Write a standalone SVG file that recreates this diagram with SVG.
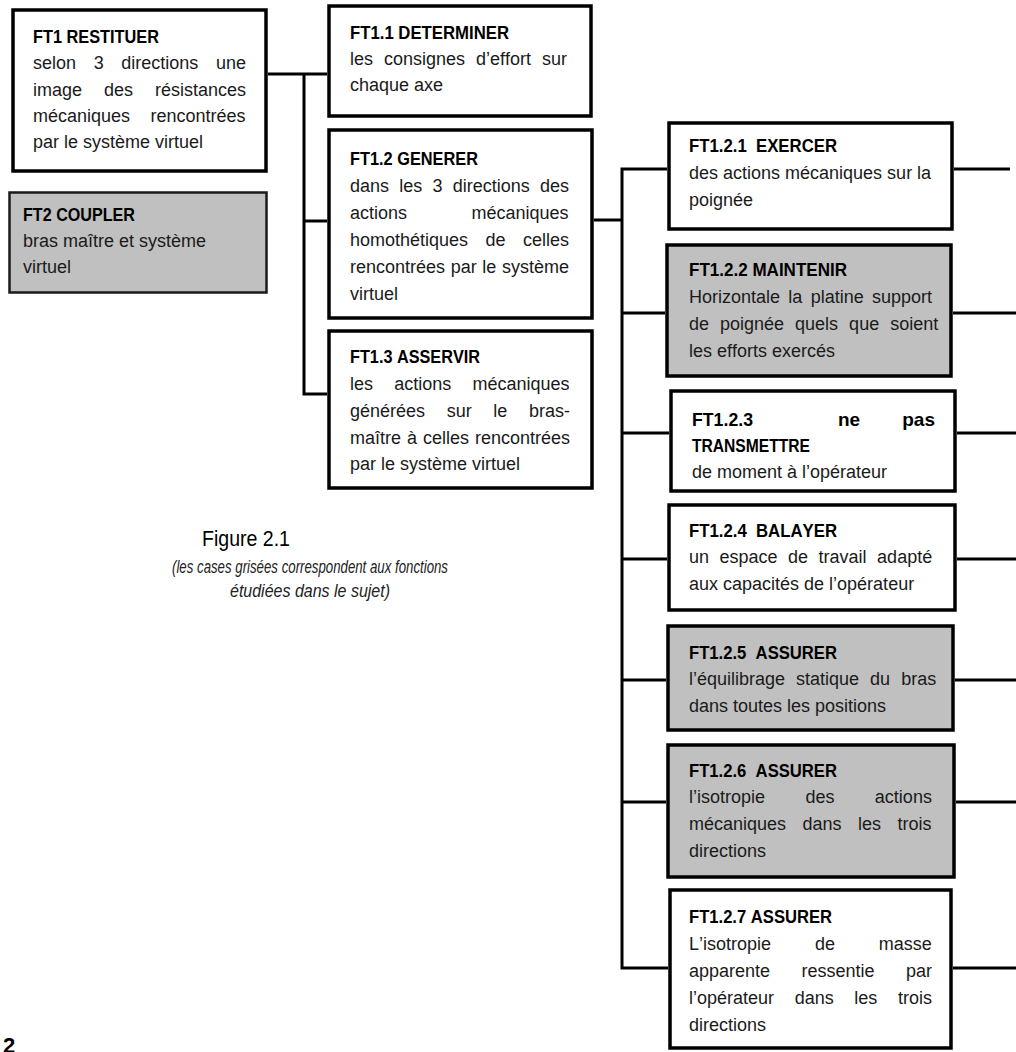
<svg xmlns="http://www.w3.org/2000/svg" width="1016" height="1052" viewBox="0 0 1016 1052">
  <style>
    .box { fill: #ffffff; stroke: #000000; stroke-width: 3.5; }
    .grey { fill: #c0c0c0; stroke: #000000; stroke-width: 3.5; }
    .grey-thin { fill: #c0c0c0; stroke: #1a1a1a; stroke-width: 2.5; }
    .wire { fill: none; stroke: #000000; stroke-width: 3; }
    .t { font-family: "Liberation Sans", Arial, sans-serif; font-weight: bold; font-size: 19px; fill: #000000; font-kerning: none; }
    .b { font-family: "Liberation Sans", Arial, sans-serif; font-size: 18px; fill: #1a1a1a; font-kerning: none; }
    .fig { font-family: "Liberation Sans", Arial, sans-serif; font-size: 22px; fill: #000000; }
    .cap { font-family: "Liberation Sans", Arial, sans-serif; font-style: italic; font-size: 18px; fill: #222222; }
    .page { font-family: "Liberation Sans", Arial, sans-serif; font-weight: bold; font-size: 22px; fill: #000000; }
  </style>

  <!-- tree connectors -->
  <g id="connectors" class="wire">
    <path d="M268 74H327"/>
    <path d="M304 74V394H327"/>
    <path d="M304 221H327"/>
    <path d="M594 220H622"/>
    <path d="M667 169H622V968H668"/>
    <path d="M622 313H665"/>
    <path d="M622 433H669"/>
    <path d="M622 559H667"/>
    <path d="M622 680H666"/>
    <path d="M622 802H666"/>
    <path d="M954 169H1010"/>
    <path d="M953 313H1016"/>
    <path d="M957 433H1016"/>
    <path d="M957 559H1016"/>
    <path d="M955 680H1016"/>
    <path d="M956 802H1016"/>
    <path d="M953 968H1016"/>
  </g>

  <g id="ft1">
    <rect class="box" x="13" y="10" width="253" height="161"/>
    <text class="t" x="33" y="43" textLength="126" lengthAdjust="spacingAndGlyphs">FT1 RESTITUER</text>
    <text class="b" x="33" y="69" style="word-spacing:12.6px">selon 3 directions une</text>
    <text class="b" x="33" y="96" style="word-spacing:17px">image des résistances</text>
    <text class="b" x="33" y="122" style="word-spacing:15.4px">mécaniques rencontrées</text>
    <text class="b" x="33" y="148">par le système virtuel</text>
  </g>

  <g id="ft2">
    <rect class="grey-thin" x="9.5" y="192.5" width="257" height="100"/>
    <text class="t" x="23" y="221" textLength="112" lengthAdjust="spacingAndGlyphs">FT2 COUPLER</text>
    <text class="b" x="23" y="247">bras maître et système</text>
    <text class="b" x="23" y="273">virtuel</text>
  </g>

  <g id="ft1-1">
    <rect class="box" x="329" y="6" width="262" height="110"/>
    <text class="t" x="350" y="39" textLength="159" lengthAdjust="spacingAndGlyphs">FT1.1 DETERMINER</text>
    <text class="b" x="350" y="65" style="word-spacing:6px">les consignes d’effort sur</text>
    <text class="b" x="350" y="91">chaque axe</text>
  </g>

  <g id="ft1-2">
    <rect class="box" x="329" y="130" width="263" height="188"/>
    <text class="t" x="350" y="165" textLength="128" lengthAdjust="spacingAndGlyphs">FT1.2 GENERER</text>
    <text class="b" x="350" y="192" style="word-spacing:5.2px">dans les 3 directions des</text>
    <text class="b" x="350" y="219" style="word-spacing:59.4px">actions mécaniques</text>
    <text class="b" x="350" y="246" style="word-spacing:12.4px">homothétiques de celles</text>
    <text class="b" x="350" y="273" style="word-spacing:0.6px">rencontrées par le système</text>
    <text class="b" x="350" y="300">virtuel</text>
  </g>

  <g id="ft1-3">
    <rect class="box" x="329" y="331" width="263" height="157"/>
    <text class="t" x="350" y="363" textLength="130" lengthAdjust="spacingAndGlyphs">FT1.3 ASSERVIR</text>
    <text class="b" x="350" y="390" style="word-spacing:16.2px">les actions mécaniques</text>
    <text class="b" x="350" y="417" style="word-spacing:16.6px">générées sur le bras-</text>
    <text class="b" x="350" y="444" style="word-spacing:1px">maître à celles rencontrées</text>
    <text class="b" x="350" y="470">par le système virtuel</text>
  </g>

  <g id="ft1-2-1">
    <rect class="box" x="669" y="123" width="283" height="106"/>
    <text class="t" x="689" y="152" textLength="148" lengthAdjust="spacingAndGlyphs" xml:space="preserve">FT1.2.1  EXERCER</text>
    <text class="b" x="689" y="179">des actions mécaniques sur la</text>
    <text class="b" x="689" y="206">poignée</text>
  </g>

  <g id="ft1-2-2">
    <rect class="grey" x="667" y="245" width="284" height="131"/>
    <text class="t" x="689" y="276" textLength="158" lengthAdjust="spacingAndGlyphs">FT1.2.2 MAINTENIR</text>
    <text class="b" x="689" y="303" style="word-spacing:3.3px">Horizontale la platine support</text>
    <text class="b" x="689" y="330" style="word-spacing:6px">de poignée quels que soient</text>
    <text class="b" x="689" y="357">les efforts exercés</text>
  </g>

  <g id="ft1-2-3">
    <rect class="box" x="671" y="391" width="284" height="100"/>
    <text class="t" x="692" y="426" textLength="61" lengthAdjust="spacingAndGlyphs">FT1.2.3</text>
    <text class="t" x="838" y="426">ne</text>
    <text class="t" x="935" y="426" text-anchor="end">pas</text>
    <text class="t" x="692" y="452" textLength="118" lengthAdjust="spacingAndGlyphs">TRANSMETTRE</text>
    <text class="b" x="692" y="478">de moment à l’opérateur</text>
  </g>

  <g id="ft1-2-4">
    <rect class="box" x="669" y="505" width="286" height="105"/>
    <text class="t" x="689" y="537" textLength="148" lengthAdjust="spacingAndGlyphs" xml:space="preserve">FT1.2.4  BALAYER</text>
    <text class="b" x="689" y="563" style="word-spacing:5.5px">un espace de travail adapté</text>
    <text class="b" x="689" y="590">aux capacités de l’opérateur</text>
  </g>

  <g id="ft1-2-5">
    <rect class="grey" x="668" y="626" width="285" height="104"/>
    <text class="t" x="689" y="659" textLength="148" lengthAdjust="spacingAndGlyphs" xml:space="preserve">FT1.2.5  ASSURER</text>
    <text class="b" x="689" y="685" style="word-spacing:6px">l’équilibrage statique du bras</text>
    <text class="b" x="689" y="712">dans toutes les positions</text>
  </g>

  <g id="ft1-2-6">
    <rect class="grey" x="668" y="745" width="286" height="132"/>
    <text class="t" x="689" y="777" textLength="148" lengthAdjust="spacingAndGlyphs" xml:space="preserve">FT1.2.6  ASSURER</text>
    <text class="b" x="689" y="803" style="word-spacing:35.4px">l’isotropie des actions</text>
    <text class="b" x="689" y="830" style="word-spacing:11.5px">mécaniques dans les trois</text>
    <text class="b" x="689" y="857">directions</text>
  </g>

  <g id="ft1-2-7">
    <rect class="box" x="670" y="890" width="281" height="158"/>
    <text class="t" x="689" y="923" textLength="143" lengthAdjust="spacingAndGlyphs">FT1.2.7 ASSURER</text>
    <text class="b" x="689" y="950" style="word-spacing:38.9px">L’isotropie de masse</text>
    <text class="b" x="689" y="977" style="word-spacing:26.4px">apparente ressentie par</text>
    <text class="b" x="689" y="1004" style="word-spacing:15.6px">l’opérateur dans les trois</text>
    <text class="b" x="689" y="1031">directions</text>
  </g>

  <!-- figure caption -->
  <g id="caption">
    <text class="fig" x="202" y="546" textLength="88" lengthAdjust="spacingAndGlyphs">Figure 2.1</text>
    <text class="cap" x="310" y="573" text-anchor="middle" textLength="276" lengthAdjust="spacingAndGlyphs">(les cases grisées correspondent aux fonctions</text>
    <text class="cap" x="310" y="597" text-anchor="middle" textLength="160" lengthAdjust="spacingAndGlyphs">étudiées dans le sujet)</text>
  </g>

  <text class="page" x="3" y="1053">2</text>
</svg>
